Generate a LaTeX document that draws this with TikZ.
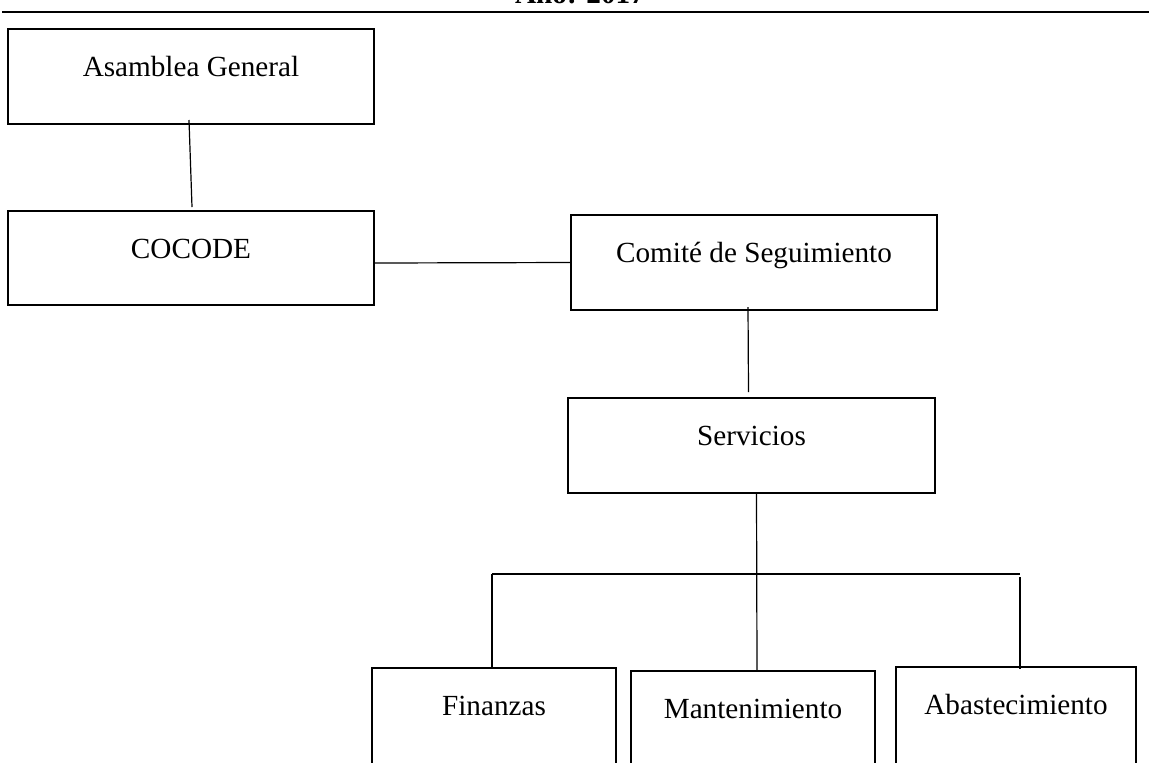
\documentclass[tikz,border=0pt]{standalone}
\usepackage{fontspec}
\setmainfont{Liberation Serif}
\usepackage{tikz}
\usetikzlibrary{positioning}
\tikzstyle{oBox} = [rectangle, anchor=north west, minimum width=183pt, minimum height=47.5pt, inner sep=0pt, outer sep=0pt, text height=23.5pt, text depth=24pt, text centered, draw=black, line width=0.8pt, font=\fontsize{14.6}{17}\selectfont]
\tikzstyle{oLowBox} = [oBox, minimum height=56pt, text depth=32.5pt]
\tikzstyle{oLine} = [line width=0.6pt]

\begin{document}
\begin{tikzpicture}[x=0.5pt, y=-0.5pt]
    \path [use as bounding box, clip] (0,0) rectangle (1149,762);
    \node (anio) [anchor=base, font=\fontsize{14.6}{17}\selectfont\bfseries] at (580,3) {Año: 2017};
    \draw [line width=1pt] (2,12) -- (1149,12);

    \node (asamblea) [oBox] at (8,29) {Asamblea General};
    \node (cocode) [oBox, minimum height=47pt, text depth=23.5pt] at (8,211) {COCODE};
    \node (comite) [oBox] at (571,215) {Comité de Seguimiento};
    \node (servicios) [oBox, minimum width=183.5pt] at (568,398) {Servicios};
    \node (finanzas) [oLowBox, minimum width=122pt] at (372,668) {Finanzas};
    \node (mantenimiento) [oLowBox, minimum width=122pt] at (631,671) {Mantenimiento};
    \node (abastecimiento) [oLowBox, minimum width=120pt] at (896,667) {Abastecimiento};
    \coordinate (barL) at (492,574);
    \coordinate (barR) at (1020,574);

    \draw [oLine] ([xshift=-1pt, yshift=2pt]asamblea.south) -- ([xshift=0.5pt, yshift=2pt]cocode.north);
    \draw [oLine] ([yshift=-2.5pt]cocode.east) -- (comite.west);
    \draw [oLine] ([xshift=-3pt, yshift=1.5pt]comite.south) -- ([xshift=-1.5pt, yshift=3pt]servicios.north);
    \draw [oLine] ([xshift=2.5pt]servicios.south) -- ([xshift=2pt]mantenimiento.north);
    \draw [oLine] (barL) -- (barR);
    \draw [oLine] (barL) -- (barL |- finanzas.north);
    \draw [oLine] ([yshift=-1.5pt]barR) -- ([yshift=-1pt]barR |- abastecimiento.north);
\end{tikzpicture}
\end{document}
